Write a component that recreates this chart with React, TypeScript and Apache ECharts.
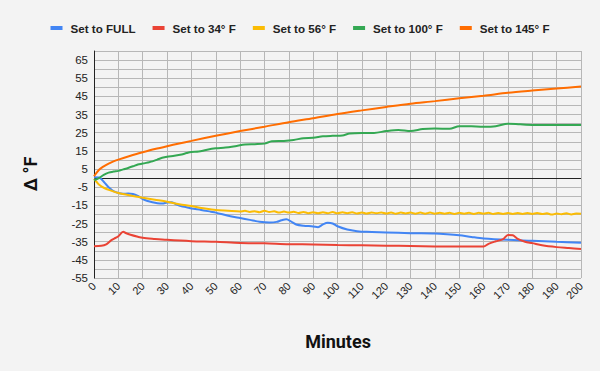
import React, { useEffect, useRef } from "react";
import * as echarts from "echarts";

const seriesNames = ["Set to FULL", "Set to 34° F", "Set to 56° F", "Set to 100° F", "Set to 145° F"];
const colors = ["#4285F4", "#EA4335", "#FBBC04", "#34A853", "#FF6D01"];

const fullMin = [0, 2, 3, 4, 5, 6, 7, 8, 10, 12, 14, 16, 18, 20, 22, 24, 26, 28, 30, 32, 34, 36, 38, 40, 44, 48, 50, 56, 60, 64, 68, 72, 75, 77, 79, 81, 83, 86, 90, 92, 94, 96, 98, 100, 104, 108, 112, 120, 130, 140, 145, 150, 155, 160, 170, 180, 190, 200];
const fullVal = [0.5, 0.3, -0.5, -2, -3.5, -5, -6.2, -7.2, -8.2, -8.6, -8.5, -8.7, -9.8, -11.5, -12.6, -13.3, -13.8, -14, -13.4, -13.3, -14.6, -15.5, -16, -16.7, -17.5, -18.5, -19, -21, -22, -23, -24, -24.4, -24.1, -23.2, -22.6, -24, -25.5, -26.2, -26.6, -27, -25.5, -24.6, -25, -26.5, -28.3, -29.2, -29.6, -29.9, -30.3, -30.5, -30.9, -31.5, -32.4, -33.2, -34, -34.5, -35.1, -35.6];

const f34Min = [0, 3, 5, 7, 9, 10, 12, 13, 15, 18, 20, 25, 30, 40, 50, 60, 70, 80, 90, 100, 110, 120, 130, 140, 150, 160, 162, 165, 168, 170, 172, 174, 177, 180, 184, 190, 195, 200];
const f34Val = [-37.5, -37.3, -36.5, -34.3, -32.8, -32, -29.5, -30.2, -31.2, -32.3, -32.9, -33.5, -34, -34.7, -35.1, -35.7, -35.9, -36.4, -36.5, -36.8, -37, -37.2, -37.4, -37.6, -37.7, -37.7, -36.2, -34.8, -33.6, -31.3, -31.5, -33.4, -35, -35.8, -37, -38, -38.5, -39];

const f56Min = [0, 1, 2, 4, 7, 10, 15, 20, 25, 30, 35, 40, 45, 50, 55, 60, 62, 64, 66, 68, 70, 72, 74, 76, 78, 80, 82, 84, 86, 88, 90, 92, 94, 96, 98, 100, 102, 104, 106, 108, 110, 112, 114, 116, 118, 120, 122, 124, 126, 128, 130, 132, 134, 136, 138, 140, 142, 144, 146, 148, 150, 152, 154, 156, 158, 160, 162, 164, 166, 168, 170, 172, 174, 176, 178, 180, 182, 184, 186, 188, 190, 192, 194, 196, 198, 200];
const f56Val = [-0.5, -2, -3.5, -5.3, -6.9, -8.2, -9.6, -10.8, -11.9, -13, -14.4, -15.4, -16.6, -17.6, -18, -18.4, -18.0, -18.6, -18.2, -18.8, -18.0, -18.6, -18.3, -19.0, -18.4, -19.0, -18.5, -19.2, -18.6, -19.3, -18.8, -19.4, -18.8, -19.3, -18.7, -19.4, -18.8, -19.3, -18.8, -19.5, -18.9, -19.5, -18.9, -19.4, -18.9, -19.5, -18.9, -19.6, -19.0, -19.5, -19.0, -19.6, -19.0, -19.6, -19.0, -19.6, -19.1, -19.6, -19.1, -19.7, -19.1, -19.6, -19.1, -19.7, -19.1, -19.6, -19.1, -19.7, -19.2, -19.7, -19.2, -19.7, -19.2, -19.7, -19.2, -19.7, -19.2, -19.8, -19.4, -20.1, -19.5, -19.9, -19.4, -20.0, -19.5, -19.6];

const f100Min = [0, 2, 4, 6, 8, 10, 12, 14, 16, 18, 20, 22, 24, 26, 28, 30, 33, 36, 38, 40, 43, 46, 50, 54, 58, 62, 66, 70, 73, 78, 82, 86, 90, 94, 98, 102, 105, 110, 115, 120, 125, 130, 135, 140, 146, 150, 155, 160, 165, 170, 175, 180, 190, 200];
const f100Val = [-1.2, 0, 1.8, 3, 3.6, 4, 4.8, 5.6, 6.5, 7.5, 8, 8.6, 9.2, 10.2, 11.2, 11.8, 12.3, 13, 13.8, 14.4, 14.6, 15.5, 16.4, 16.8, 17.6, 18.5, 18.7, 19, 20.3, 20.5, 21, 22, 22.2, 23, 23.3, 23.5, 24.6, 24.9, 24.9, 25.9, 26.5, 25.9, 27, 27.3, 27.2, 28.6, 28.5, 28.3, 28.6, 30, 29.6, 29.3, 29.3, 29.3];

const f145Min = [0, 2, 4, 6, 8, 10, 15, 20, 25, 30, 35, 40, 50, 60, 70, 80, 90, 100, 110, 120, 130, 140, 150, 160, 170, 180, 190, 200];
const f145Val = [1, 4.5, 6.5, 8, 9.2, 10.2, 12.3, 14.2, 16, 17.6, 19.1, 20.5, 23.3, 25.9, 28.3, 30.8, 33, 35.3, 37.3, 39.2, 41, 42.4, 44, 45.4, 47, 48.2, 49.3, 50.4];

const xMin = 0;
const xMax = 200;
const xStep = 10;
const yMin = -55;
const yMax = 70;
const yStep = 5;

const seriesMinutes = [fullMin, f34Min, f56Min, f100Min, f145Min];
const seriesValues = [fullVal, f34Val, f56Val, f100Val, f145Val];

export default function App() {
  const ref = useRef<HTMLDivElement>(null);
  useEffect(() => {
    if (!ref.current) return;
    const chart = echarts.init(ref.current, null, { renderer: "svg" });
    const labelFont = "'Liberation Sans', Arial, sans-serif";
    const series: any[] = seriesNames.map((name, i) => ({
      name,
      type: "line",
      data: seriesMinutes[i].map((m, j) => [m, seriesValues[i][j]]),
      showSymbol: false,
      symbol: "none",
      smooth: 0.3,
      lineStyle: { width: 2, color: colors[i] },
      itemStyle: { color: colors[i] },
      z: 3,
    }));
    series[0].markLine = {
      silent: true,
      symbol: "none",
      label: { show: false },
      lineStyle: { color: "#222", width: 1, type: "solid" },
      data: [{ yAxis: 0 }],
      z: 2,
    };
    chart.setOption({
      animation: false,
      backgroundColor: "#f3f3f3",
      color: colors,
      legend: {
        top: 17,
        left: "center",
        icon: "rect",
        itemWidth: 12,
        itemHeight: 4,
        itemGap: 17,
        textStyle: {
          fontFamily: labelFont,
          fontWeight: "bold",
          fontSize: 11.6,
          color: "#222",
          padding: [0, 0, 0, 3],
        },
        data: seriesNames,
      },
      grid: { left: 94, right: 19, top: 51, bottom: 93, containLabel: false },
      xAxis: {
        type: "value",
        min: xMin,
        max: xMax,
        interval: xStep,
        axisLine: { show: false },
        axisTick: { show: false },
        splitLine: { show: true, lineStyle: { color: "#b7b7b7", width: 1 } },
        axisLabel: {
          rotate: 45,
          fontFamily: labelFont,
          fontSize: 11,
          color: "#222",
          margin: 6,
        },
      },
      yAxis: {
        type: "value",
        min: yMin,
        max: yMax,
        interval: yStep,
        axisLine: { show: true, onZero: false, lineStyle: { color: "#222", width: 1 } },
        axisTick: { show: false },
        splitLine: { show: true, lineStyle: { color: "#b7b7b7", width: 1 } },
        axisLabel: {
          fontFamily: labelFont,
          fontSize: 11.5,
          color: "#222",
          margin: 6,
          formatter: (v: number) => ((v - yMin) % 10 === 0 && v < yMax ? String(v) : ""),
        },
      },
      graphic: [
        {
          type: "text",
          x: 338,
          y: 341,
          style: {
            text: "Minutes",
            fontFamily: "Roboto, sans-serif",
            fontWeight: "bold",
            fontSize: 18,
            fill: "#111",
            textAlign: "center",
            textVerticalAlign: "middle",
          },
        },
        {
          type: "text",
          x: 30,
          y: 174,
          rotation: Math.PI / 2,
          style: {
            text: "Δ °F",
            fontFamily: "Roboto, sans-serif",
            fontWeight: "bold",
            fontSize: 18,
            fill: "#111",
            textAlign: "center",
            textVerticalAlign: "middle",
          },
        },
      ],
      series,
    });
    return () => chart.dispose();
  }, []);
  return (
    <div
      ref={ref}
      style={{ position: "fixed", left: 0, top: 0, width: 600, height: 371 }}
    />
  );
}
